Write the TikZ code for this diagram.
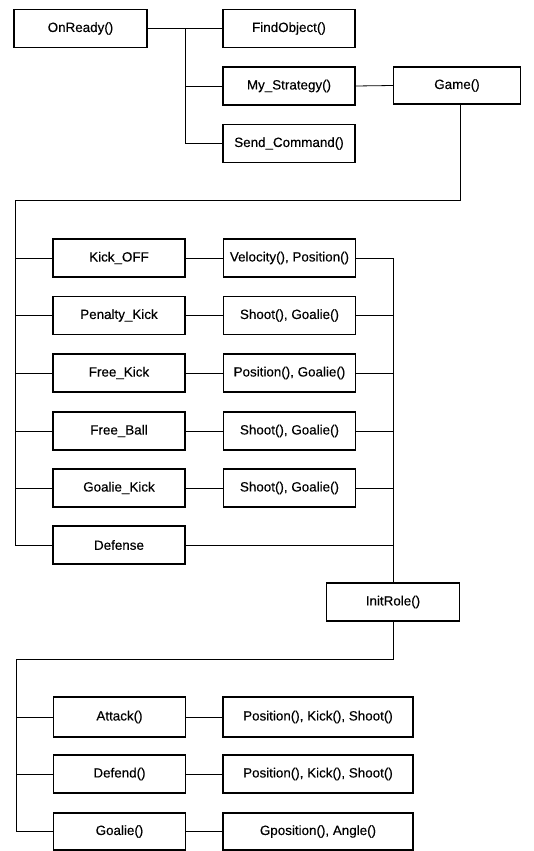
\documentclass[tikz,border=0pt]{standalone}
\usepackage{fontspec}
\setmainfont[FakeBold=0.3]{Liberation Sans}
\begin{document}
\begin{tikzpicture}[x=1pt,y=-1pt,
  box/.style={draw=black,line width=1.1pt,fill=white,minimum width=132pt,minimum height=38pt,inner sep=0pt,font=\fontsize{13.4}{15}\selectfont},
  wide/.style={box,minimum width=190pt},
  conn/.style={draw=black,line width=0.8pt}]
\useasboundingbox (0,0) rectangle (534,851);
% top row
\node[box,minimum width=133pt] (onready) at (80.5,28.5) {OnReady()};
\node[box] (findobj) at (289,28.5) {FindObject()};
\node[box] (mystrat) at (289,86) {My\_Strategy()};
\node[box] (sendcmd) at (289,143.5) {Send\_Command()};
\node[box,minimum width=127pt,minimum height=37pt] (game) at (457,85.5) {Game()};
% game states
\node[box] (kickoff) at (119,258) {Kick\_OFF};
\node[box] (velpos) at (289.5,258) {Velocity(), Position()};
\node[box] (penalty) at (119,315.5) {Penalty\_Kick};
\node[box] (shoot1) at (289.5,315.5) {Shoot(), Goalie()};
\node[box] (freekick) at (119,373) {Free\_Kick};
\node[box] (posgoal) at (289.5,373) {Position(), Goalie()};
\node[box] (freeball) at (119,431) {Free\_Ball};
\node[box] (shoot2) at (289.5,431) {Shoot(), Goalie()};
\node[box] (goalkick) at (119,488) {Goalie\_Kick};
\node[box] (shoot3) at (289.5,488) {Shoot(), Goalie()};
\node[box] (defense) at (119,545) {Defense};
% init role
\node[box,minimum width=133pt] (initrole) at (393,602) {InitRole()};
% roles
\node[box,minimum height=40pt] (attack) at (119.5,717) {Attack()};
\node[wide,minimum height=40pt] (pks1) at (318,717) {Position(), Kick(), Shoot()};
\node[box] (defend) at (119.5,774) {Defend()};
\node[wide] (pks2) at (318,774) {Position(), Kick(), Shoot()};
\node[box,minimum height=37pt] (goalie) at (119.5,831.5) {Goalie()};
\node[wide,minimum height=37pt] (gpos) at (318,831.5) {Gposition(), Angle()};
% coordinates
\coordinate (t1) at (185,28.5);
\coordinate (g1) at (460,200);
\coordinate (l1) at (15,200);
\coordinate (r1) at (393,258);
\coordinate (b1) at (393,659);
\coordinate (b2) at (16,659);
% connectors top
\draw[conn] (onready.east) -- (findobj.west);
\draw[conn] (t1) |- (mystrat.west);
\draw[conn] (t1) |- (sendcmd.west);
\draw[conn] (mystrat.east) -- (game.west);
\draw[conn] (game.south -| g1) -- (g1) -- (l1) |- (defense.west);
\foreach \n in {kickoff,penalty,freekick,freeball,goalkick}
  \draw[conn] (l1 |- \n.west) -- (\n.west);
\draw[conn] (kickoff.east) -- (velpos.west);
\draw[conn] (penalty.east) -- (shoot1.west);
\draw[conn] (freekick.east) -- (posgoal.west);
\draw[conn] (freeball.east) -- (shoot2.west);
\draw[conn] (goalkick.east) -- (shoot3.west);
\foreach \n in {velpos,shoot1,posgoal,shoot2,shoot3,defense}
  \draw[conn] (\n.east) -- (\n.east -| r1);
\draw[conn] (velpos.east -| r1) -- (initrole.north);
\draw[conn] (initrole.south) -- (b1) -- (b2) |- (goalie.west);
\draw[conn] (b2 |- attack.west) -- (attack.west);
\draw[conn] (b2 |- defend.west) -- (defend.west);
\draw[conn] (attack.east) -- (pks1.west);
\draw[conn] (defend.east) -- (pks2.west);
\draw[conn] (goalie.east) -- (gpos.west);
\end{tikzpicture}
\end{document}
